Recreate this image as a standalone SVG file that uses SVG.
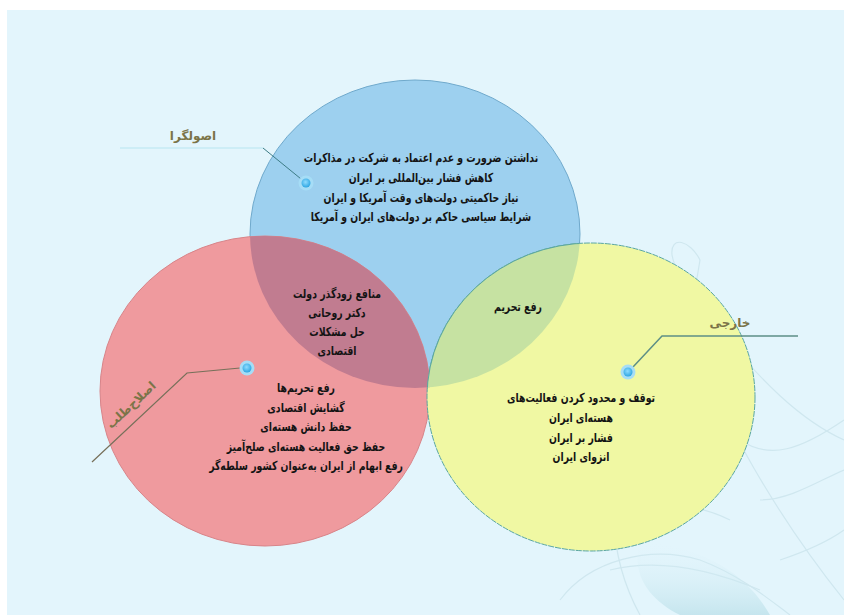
<svg xmlns="http://www.w3.org/2000/svg" width="844" height="615" viewBox="0 0 844 615">
<defs>
<style>
.t{font-family:"DejaVu Sans",sans-serif;font-weight:bold;font-size:12.5px;fill:#141414;text-anchor:middle}
.lbl{font-family:"DejaVu Sans",sans-serif;font-weight:bold;font-size:12px;fill:#7b7448;text-anchor:middle}
.leaf{fill:none;stroke:#cfe7ef;stroke-width:1.2}
.glow{fill:#a6ddf6}
.core{fill:url(#dotg)}
</style>
<radialGradient id="dotg" cx="0.45" cy="0.4" r="0.6">
<stop offset="0" stop-color="#8fdcff"/>
<stop offset="1" stop-color="#2ea6e2"/>
</radialGradient>
<linearGradient id="shade" x1="0" y1="0" x2="0" y2="1">
<stop offset="0" stop-color="#e3f5fc" stop-opacity="0"/>
<stop offset="1" stop-color="#b9dfe8" stop-opacity="0.7"/>
</linearGradient>
<clipPath id="clipBlue"><ellipse cx="415" cy="234" rx="165" ry="154"/></clipPath>
</defs>

<rect x="0" y="0" width="844" height="615" fill="#ffffff"/>
<rect x="7" y="10" width="837" height="605" fill="#e3f5fc"/>

<g id="background-leaves">
<path d="M640,615 C610,560 600,480 640,420 C670,380 690,330 700,260" class="leaf"/>
<path d="M700,260 C690,240 670,235 672,255 C675,275 700,300 720,330 C760,380 800,420 844,440" class="leaf"/>
<path d="M690,330 C720,420 780,520 844,600" class="leaf"/>
<path d="M620,470 C650,440 690,430 720,440 M600,520 C640,500 690,500 730,520 M610,570 C650,560 700,565 760,590" class="leaf"/>
<path d="M740,440 C770,460 800,450 844,420 M760,500 C790,500 820,480 844,470 M780,560 C810,550 830,540 844,530" class="leaf"/>
<path d="M560,600 C590,560 650,545 700,560 C740,575 770,600 790,615" class="leaf"/>
<path d="M640,540 C630,575 650,600 680,615 L770,615 C750,580 715,550 640,540 Z" fill="url(#shade)" stroke="none"/>
</g>

<g id="circle-blue">
<ellipse cx="415" cy="234" rx="165" ry="154" fill="#9dd0ef" stroke="#6fa9cc" stroke-width="1"/>
</g>
<g id="circle-red">
<ellipse cx="265" cy="391" rx="165" ry="155" fill="#ef9a9e" stroke="#d88489" stroke-width="1"/>
</g>
<g id="circle-yellow">
<ellipse cx="591" cy="397" rx="164" ry="154" fill="#f0f8a3" stroke="#5aa6a0" stroke-width="1" stroke-dasharray="6 1"/>
</g>
<g id="overlap-blue-red" clip-path="url(#clipBlue)">
<ellipse cx="265" cy="391" rx="165" ry="155" fill="#c17c90"/>
</g>
<g id="overlap-blue-yellow" clip-path="url(#clipBlue)">
<ellipse cx="591" cy="397" rx="164" ry="154" fill="#c6e2a2" stroke="#5aa6a0" stroke-width="1"/>
</g>

<g id="connectors">
<line x1="120" y1="148" x2="263" y2="148" stroke="#c6eaf4" stroke-width="1.5"/>
<polyline points="263,148 306,183" fill="none" stroke="#3d7c86" stroke-width="1"/>
<polyline points="92,462 187,373 240,368" fill="none" stroke="#77705a" stroke-width="1.2"/>
<polyline points="633,367 662,336 798,336" fill="none" stroke="#5d8f86" stroke-width="1.5"/>
</g>

<g id="dot-blue"><circle cx="306" cy="183" r="7.5" class="glow"/><circle cx="306" cy="183" r="4.5" class="core"/></g>
<g id="dot-red"><circle cx="247" cy="368" r="7.5" class="glow"/><circle cx="247" cy="368" r="4.5" class="core"/></g>
<g id="dot-yellow"><circle cx="628" cy="372" r="7.5" class="glow"/><circle cx="628" cy="372" r="4.5" class="core"/></g>

<g id="label-osoolgara"><text class="lbl" x="193" y="140" font-size="13">اصولگرا</text></g>
<g id="label-eslahtalab"><text class="lbl" x="0" y="0" font-size="13" transform="translate(134,408) rotate(-43)">اصلاح&#x200C;طلب</text></g>
<g id="label-khareji"><text class="lbl" x="730" y="327" font-size="11">خارجی</text></g>

<g id="text-blue" transform="translate(421 0) scale(0.745 1)">
<text class="t" x="0" y="162">نداشتن ضرورت و عدم اعتماد به شرکت در مذاکرات</text>
<text class="t" x="0" y="182">کاهش فشار بین&#x200C;المللی بر ایران</text>
<text class="t" x="0" y="202">نیاز حاکمیتی دولت&#x200C;های وقت آمریکا و ایران</text>
<text class="t" x="0" y="221">شرایط سیاسی حاکم بر دولت&#x200C;های ایران و آمریکا</text>
</g>

<g id="text-blue-red" transform="translate(337 0) scale(0.745 1)">
<text class="t" x="0" y="298">منافع زودگذر دولت</text>
<text class="t" x="0" y="317">دکتر روحانی</text>
<text class="t" x="0" y="336">حل مشکلات</text>
<text class="t" x="0" y="355">اقتصادی</text>
</g>

<g id="text-blue-yellow" transform="translate(518 0) scale(0.745 1)">
<text class="t" x="0" y="311">رفع تحریم</text>
</g>

<g id="text-red" transform="translate(306 0) scale(0.745 1)">
<text class="t" x="0" y="392">رفع تحریم&#x200C;ها</text>
<text class="t" x="0" y="412">گشایش اقتصادی</text>
<text class="t" x="0" y="431">حفظ دانش هسته&#x200C;ای</text>
<text class="t" x="0" y="451">حفظ حق فعالیت هسته&#x200C;ای صلح&#x200C;آمیز</text>
<text class="t" x="0" y="470">رفع ابهام از ایران به&#x200C;عنوان کشور سلطه&#x200C;گر</text>
</g>

<g id="text-yellow" transform="translate(581 0) scale(0.745 1)">
<text class="t" x="0" y="402">توقف و محدود کردن فعالیت&#x200C;های</text>
<text class="t" x="0" y="422">هسته&#x200C;ای ایران</text>
<text class="t" x="0" y="442">فشار بر ایران</text>
<text class="t" x="0" y="461">انزوای ایران</text>
</g>
</svg>
